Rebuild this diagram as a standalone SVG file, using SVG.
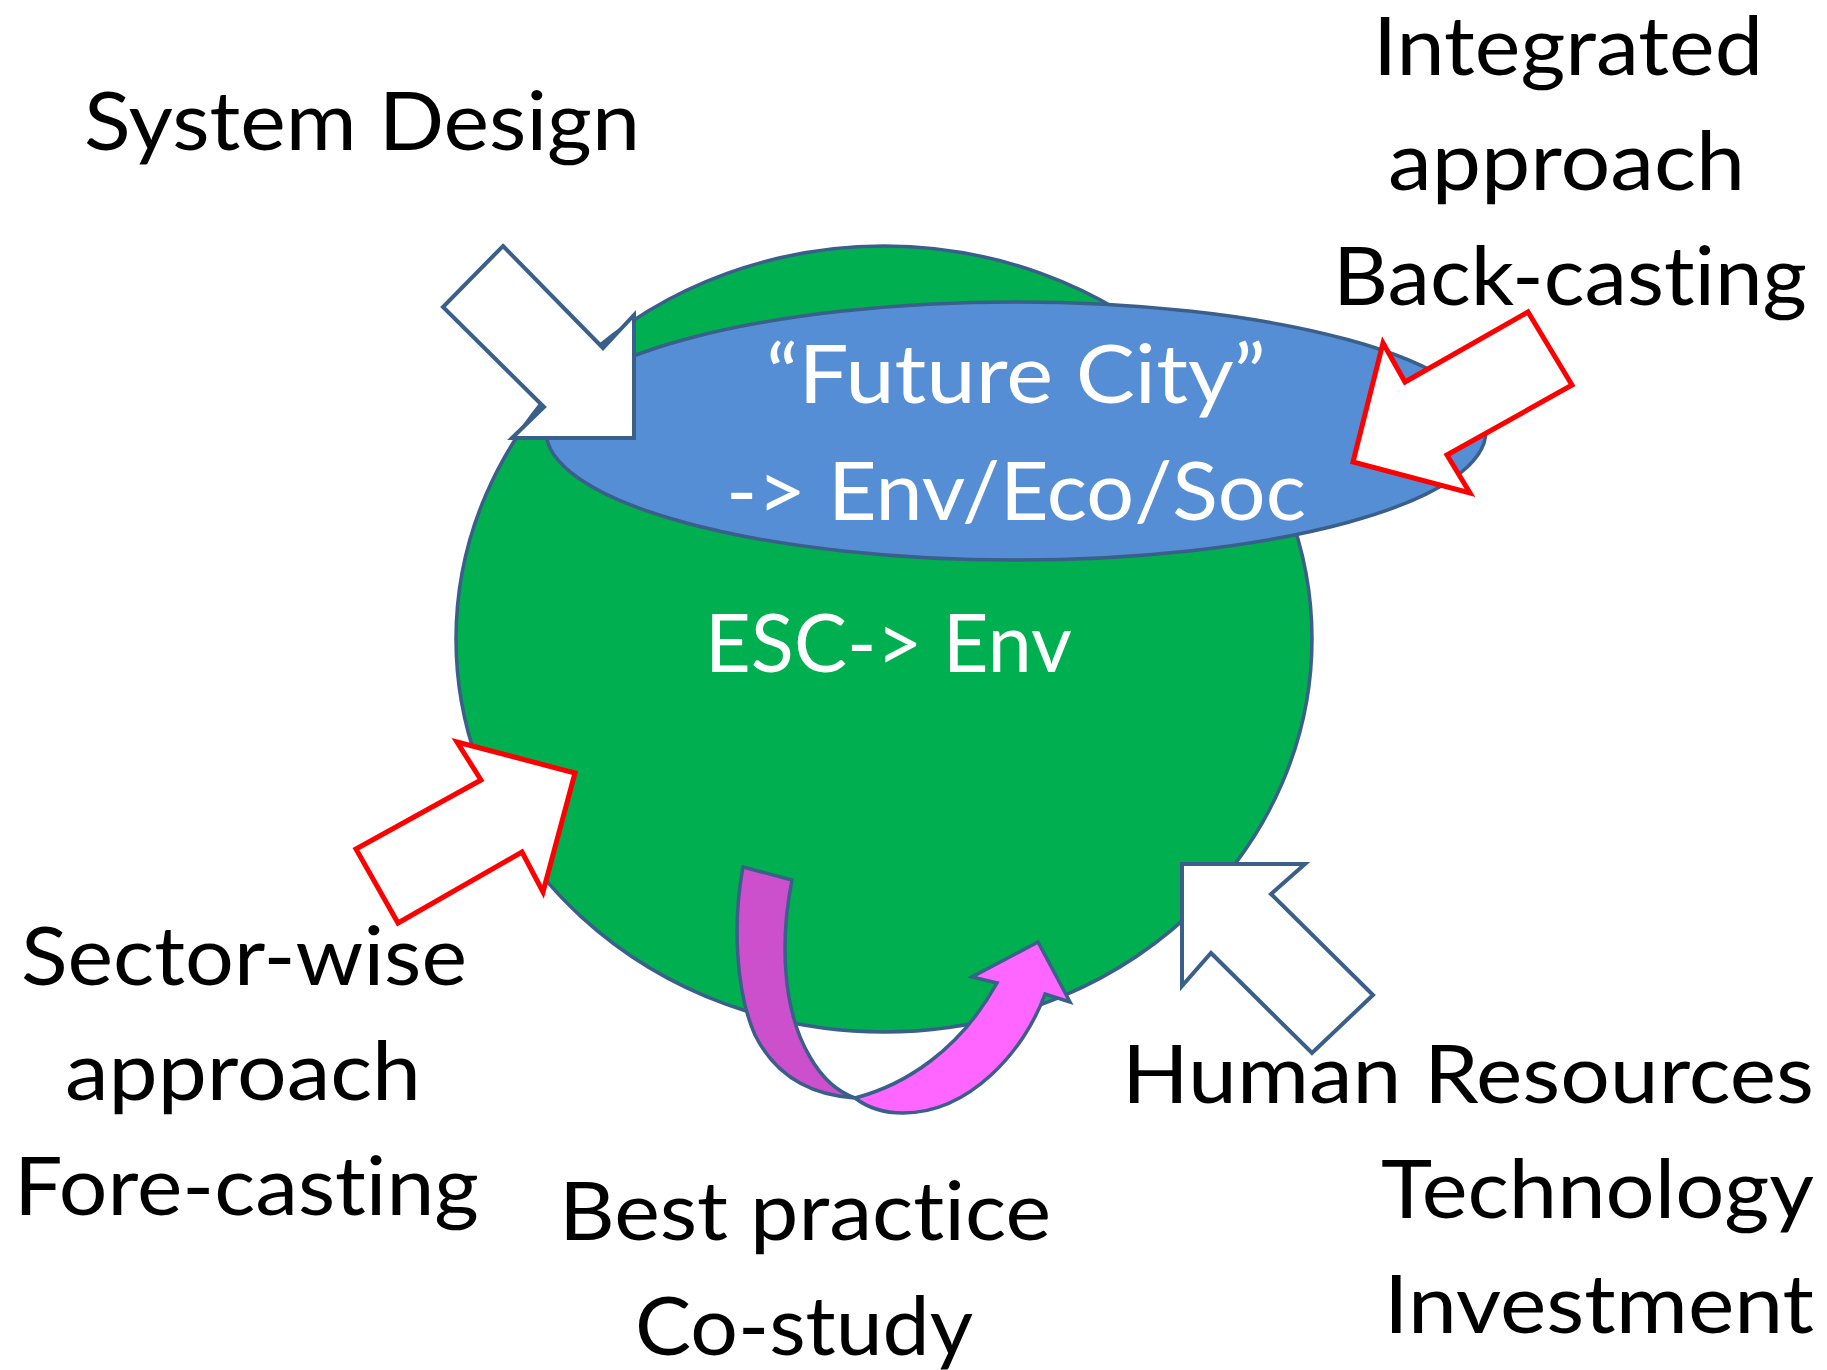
<svg xmlns="http://www.w3.org/2000/svg" width="1827" height="1370" viewBox="0 0 1827 1370">
<style>
.t{font-family:Lato,"Open Sans","Liberation Sans",sans-serif;font-size:82px;fill:#000;font-variant-ligatures:none;font-feature-settings:"liga" 0,"clig" 0}
.w{fill:#fff}
.outline{stroke:#3A5F8B;stroke-width:3.5;stroke-linejoin:miter}
.red{fill:#fff;stroke:#FF0000;stroke-width:5;stroke-linejoin:miter}
.blueArrow{fill:#fff;stroke:#3A5F8B;stroke-width:4;stroke-linejoin:miter}
</style>
<rect width="1827" height="1370" fill="#fff"/>
<g id="green-circle">
<ellipse cx="884" cy="639" rx="428" ry="393" fill="#00AF50" class="outline"/>
<text class="t w" x="705" y="672" textLength="367" lengthAdjust="spacingAndGlyphs">ESC-&gt; Env</text>
</g>
<g id="future-city">
<ellipse cx="1016" cy="431" rx="470" ry="129" fill="#558ED5" class="outline"/>
<text class="t w" x="766" y="403" textLength="500" lengthAdjust="spacingAndGlyphs">“Future City”</text>
<text class="t w" x="726" y="520" textLength="580" lengthAdjust="spacingAndGlyphs">-&gt; Env/Eco/Soc</text>
</g>
<g id="connectors">
<polygon class="blueArrow" points="503,246 603,348 634,315 634,438 512,438 544,407 443,307"/>
<polygon class="red" points="1528,312 1572,385 1447,455 1470,493 1353,462 1383,343 1405,382"/>
<polygon class="red" points="457,742 575,773 543,892 522,852 398,923 356,849 481,780"/>
<polygon class="blueArrow" points="1182,864 1305,864 1271,894 1373,995 1312,1053 1211,953 1182,986"/>
<path d="M743,867 L792,880 C780,940 782,1010 810,1057 C822,1078 838,1092 855,1098 C810,1095 775,1075 755,1035 C735,990 733,920 743,867 Z" fill="#CC50CC" class="outline"/>
<path d="M855,1098 C905,1085 960,1050 997,983 L972,977 L1038,942 L1070,1002 L1045,994 C1025,1050 970,1113 903,1113 C885,1113 868,1108 855,1098 Z" fill="#FF66FF" class="outline"/>
</g>
<g id="system-design">
<text class="t" x="84" y="150" textLength="556" lengthAdjust="spacingAndGlyphs">System Design</text>
</g>
<g id="integrated-approach">
<text class="t" x="1373" y="75" textLength="390" lengthAdjust="spacingAndGlyphs">Integrated</text>
<text class="t" x="1388" y="190" textLength="357" lengthAdjust="spacingAndGlyphs">approach</text>
<text class="t" x="1333" y="305" textLength="474" lengthAdjust="spacingAndGlyphs">Back-casting</text>
</g>
<g id="sector-wise">
<text class="t" x="21" y="985" textLength="446" lengthAdjust="spacingAndGlyphs">Sector-wise</text>
<text class="t" x="65" y="1100" textLength="356" lengthAdjust="spacingAndGlyphs">approach</text>
<text class="t" x="14" y="1215" textLength="465" lengthAdjust="spacingAndGlyphs">Fore-casting</text>
</g>
<g id="best-practice">
<text class="t" x="559" y="1240" textLength="492" lengthAdjust="spacingAndGlyphs">Best practice</text>
<text class="t" x="635" y="1355" textLength="338" lengthAdjust="spacingAndGlyphs">Co-study</text>
</g>
<g id="human-resources">
<text class="t" x="1122" y="1103" textLength="692" lengthAdjust="spacingAndGlyphs">Human Resources</text>
<text class="t" x="1381" y="1218" textLength="433" lengthAdjust="spacingAndGlyphs">Technology</text>
<text class="t" x="1384" y="1333" textLength="430" lengthAdjust="spacingAndGlyphs">Investment</text>
</g>
</svg>
